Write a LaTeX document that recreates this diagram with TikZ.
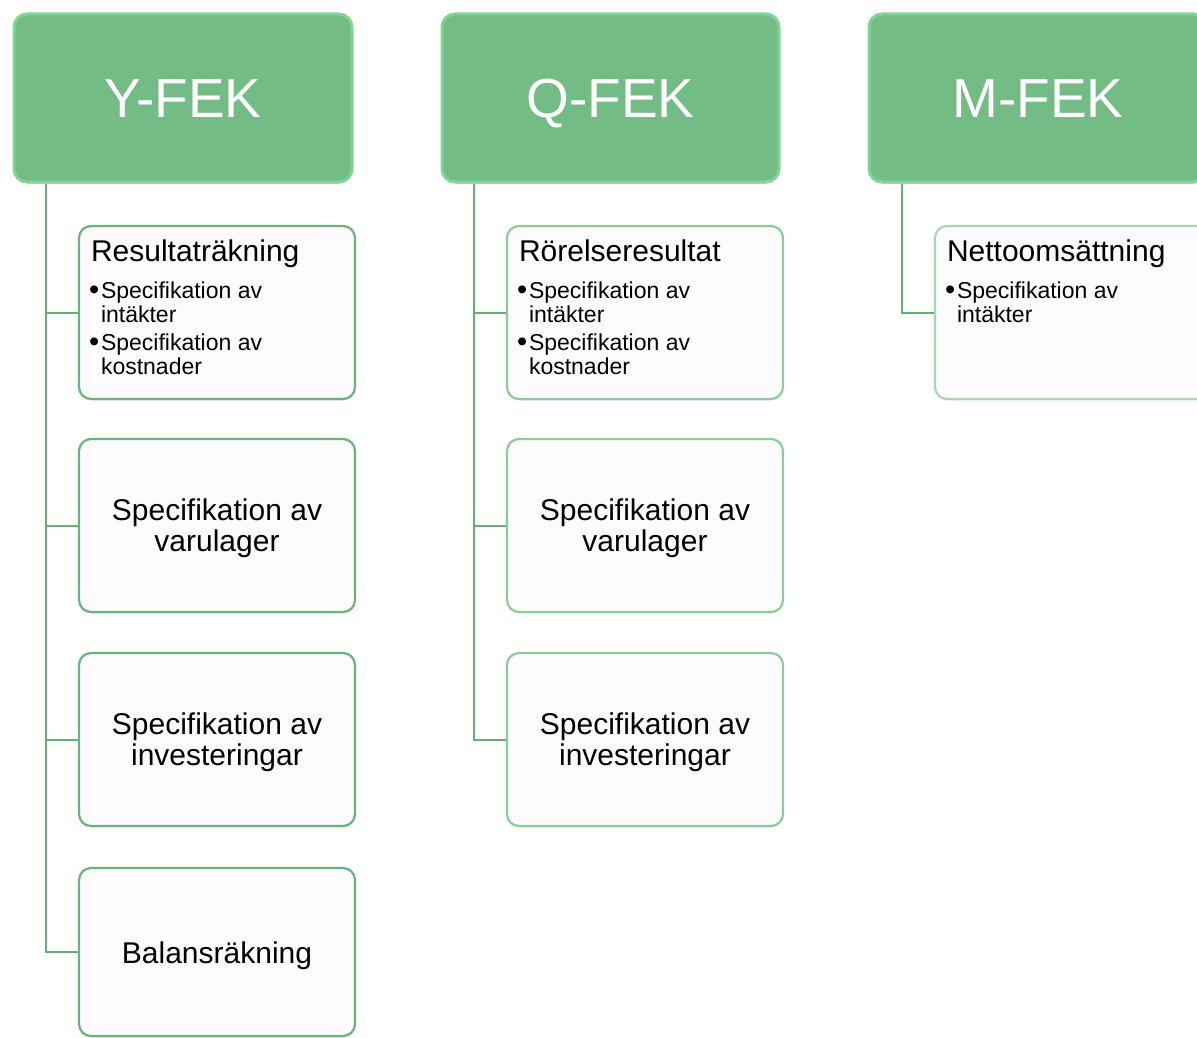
\documentclass[tikz,border=0pt]{standalone}
\usepackage{fontspec}
\setmainfont{Liberation Sans}
\usetikzlibrary{shadows}
\definecolor{hdrfill}{RGB}{116,188,134}
\definecolor{hdredge}{RGB}{128,212,150}
\definecolor{linegreen}{RGB}{98,176,116}
\definecolor{borderY}{RGB}{104,180,122}
\definecolor{borderQ}{RGB}{140,204,154}
\definecolor{borderM}{RGB}{166,216,176}
\definecolor{boxfill}{RGB}{253,251,254}
\newcommand\bul[2]{\makebox[10pt][l]{\hspace{-2pt}\raisebox{-0.5pt}{\fontsize{29}{24}\selectfont\textbullet}}#1\par\hspace*{10pt}#2\par}
\newcommand\titlebox[3]{\parbox[c][173pt][t]{252pt}{\raggedright\vspace*{14pt}%
  \fontsize{30}{34}\selectfont #1\par\fontsize{23}{24}\selectfont\vspace{13pt}#2#3}}
\newcommand\topstrut{\rule{0pt}{28pt}}
\tikzset{
  hdr/.style={rounded corners=13pt, fill=hdrfill, draw=hdredge, line width=3pt,
    minimum height=168pt, inner sep=0pt, text=white, font=\fontsize{55}{60}\selectfont,
    text height=39pt, text depth=0pt,
    drop shadow={shadow xshift=0pt, shadow yshift=-1.5pt, opacity=0.25, fill=black!60}},
  childbox/.style={rounded corners=12pt, fill=boxfill, line width=2.2pt,
    minimum width=276pt, minimum height=173pt, inner sep=0pt,
    drop shadow={shadow xshift=0pt, shadow yshift=-1.5pt, opacity=0.18, fill=black!50}},
  bigtext/.style={align=center, font=\fontsize{30}{31}\selectfont},
  conn/.style={draw=linegreen, line width=2pt}
}
\begin{document}
\begin{tikzpicture}[x=1pt,y=-1pt]
\useasboundingbox (0,0) rectangle (1197,1038);
\begin{scope}
\clip (0,0) rectangle (1197,1038);
% headers
\node[hdr, minimum width=338pt] (Y) at (183,98) {Y-FEK};
\node[hdr, minimum width=337pt] (Q) at (610.5,98) {Q-FEK};
\node[hdr, minimum width=338pt] (M) at (1038,98) {M-FEK};

% Y column
\node[childbox, draw=borderY] (y1) at (217,312.5)
  {\titlebox{Resultaträkning}{\bul{Specifikation av}{intäkter}\vspace{4pt}}{\bul{Specifikation av}{kostnader}}};
\node[childbox, draw=borderY, bigtext] (y2) at (217,525.5) {\topstrut Specifikation av\\varulager};
\node[childbox, draw=borderY, bigtext] (y3) at (217,739.5) {\topstrut Specifikation av\\investeringar};
\node[childbox, draw=borderY, bigtext, minimum height=168pt, text height=23.5pt, text depth=0pt] (y4) at (217,952) {Balansräkning};

% Q column
\node[childbox, draw=borderQ] (q1) at (645,312.5)
  {\titlebox{Rörelseresultat}{\bul{Specifikation av}{intäkter}\vspace{4pt}}{\bul{Specifikation av}{kostnader}}};
\node[childbox, draw=borderQ, bigtext] (q2) at (645,525.5) {\topstrut Specifikation av\\varulager};
\node[childbox, draw=borderQ, bigtext] (q3) at (645,739.5) {\topstrut Specifikation av\\investeringar};

% M column
\node[childbox, draw=borderM] (m1) at (1073,312.5)
  {\titlebox{Nettoomsättning}{\bul{Specifikation av}{intäkter}}{}};

% connectors
\coordinate (ystem) at ([xshift=-137pt]Y.south);
\draw[conn] (ystem) |- (y1.west);
\draw[conn] (ystem) |- (y2.west);
\draw[conn] (ystem) |- (y3.west);
\draw[conn] (ystem) |- (y4.west);
\coordinate (qstem) at ([xshift=-136.5pt]Q.south);
\draw[conn] (qstem) |- (q1.west);
\draw[conn] (qstem) |- (q2.west);
\draw[conn] (qstem) |- (q3.west);
\coordinate (mstem) at ([xshift=-136pt]M.south);
\draw[conn] (mstem) |- (m1.west);
\end{scope}
\end{tikzpicture}
\end{document}
